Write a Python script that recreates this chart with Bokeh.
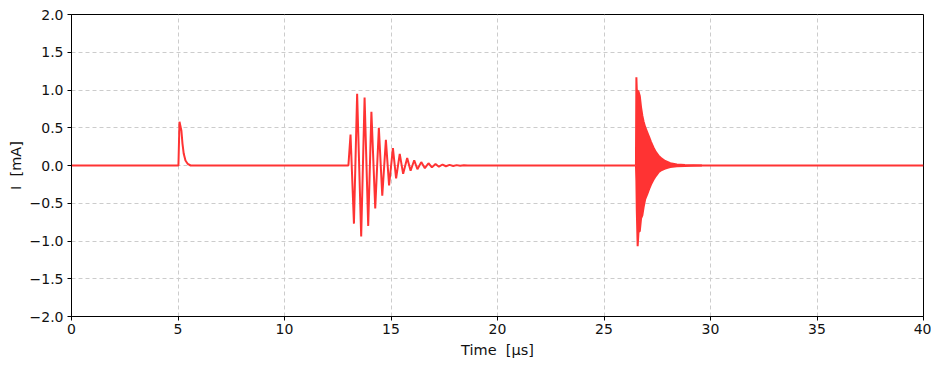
from bokeh.plotting import figure
from bokeh.models import Range1d, FixedTicker, CustomJSTickFormatter
from bokeh.embed import file_html
from bokeh.resources import INLINE

# ---- data ----
# baseline + first pulse + second (damped) burst, time in microseconds, current in mA
t_main = [0.0, 5.02, 5.07, 5.16, 5.21, 5.27, 5.35, 5.46, 5.59,
          13.00, 13.10, 13.26, 13.41, 13.60, 13.76, 13.93, 14.08, 14.26, 14.43, 14.59,
          14.76, 14.91, 15.09, 15.24, 15.41, 15.57, 15.76, 15.92, 16.09, 16.24, 16.42,
          16.59, 16.76, 16.92, 17.09, 17.25, 17.42, 17.58, 17.75, 17.92, 18.08, 18.25,
          18.42, 18.60, 26.48]
i_main = [0.0, 0.0, 0.58, 0.46, 0.29, 0.155, 0.066, 0.02, 0.0,
          0.0, 0.41, -0.77, 0.95, -0.94, 0.90, -0.80, 0.71, -0.57, 0.50, -0.40,
          0.34, -0.265, 0.23, -0.17, 0.155, -0.11, 0.10, -0.07, 0.07, -0.05, 0.045,
          -0.035, 0.03, -0.025, 0.02, -0.016, 0.013, -0.01, 0.008, -0.006, 0.005, -0.004,
          0.003, 0.0, 0.0]

# third burst: very fast oscillation, drawn by its upper / lower envelope
t_b3 = [26.50, 26.52, 26.54, 26.58, 26.62, 26.68, 26.74, 26.80, 26.86, 26.93, 27.03, 27.12,
        27.21, 27.32, 27.43, 27.56, 27.71, 27.87, 28.11, 28.42, 28.80, 29.20, 29.60]
hi_b3 = [0.0, 1.17, 1.0, 0.99, 0.98, 0.92, 0.77, 0.66, 0.58, 0.51, 0.44, 0.375,
         0.31, 0.24, 0.18, 0.13, 0.09, 0.06, 0.03, 0.013, 0.006, 0.003, 0.0]
lo_b3 = [0.0, -0.2, -0.6, -1.07, -0.88, -0.87, -0.70, -0.66, -0.55, -0.45, -0.38, -0.31,
         -0.25, -0.19, -0.14, -0.09, -0.06, -0.04, -0.02, -0.01, -0.005, -0.002, 0.0]
t_tail = [29.60, 40.0]
i_tail = [0.0, 0.0]

x_ticks = [0, 5, 10, 15, 20, 25, 30, 35, 40]
y_ticks = [-2.0, -1.5, -1.0, -0.5, 0.0, 0.5, 1.0, 1.5, 2.0]

RED = "#ff3333"
FONT = "DejaVu Sans"
LW = 2

p = figure(width=931, height=360, output_backend="svg", toolbar_location=None,
           x_range=Range1d(0, 40), y_range=Range1d(-2, 2),
           min_border_left=71, min_border_right=8, min_border_top=14, min_border_bottom=44)
p.background_fill_color = "white"
p.border_fill_color = "white"
p.outline_line_color = "black"
p.outline_line_width = 1

p.line(t_main, i_main, color=RED, line_width=LW)
p.varea(x=t_b3, y1=lo_b3, y2=hi_b3, fill_color=RED)
p.line(t_b3, hi_b3, color=RED, line_width=LW)
p.line(t_b3, lo_b3, color=RED, line_width=LW)
p.line(t_tail, i_tail, color=RED, line_width=LW)

p.xaxis.ticker = FixedTicker(ticks=x_ticks)
p.yaxis.ticker = FixedTicker(ticks=y_ticks)
p.yaxis.formatter = CustomJSTickFormatter(code="return tick.toFixed(1).replace('-', '\u2212');")
p.xaxis.formatter = CustomJSTickFormatter(code="return tick.toFixed(0);")

for ax in (p.xaxis[0], p.yaxis[0]):
    ax.axis_line_color = "black"
    ax.major_tick_line_color = "black"
    ax.major_tick_out = 4
    ax.major_tick_in = 0
    ax.minor_tick_line_color = None
    ax.major_label_text_font = FONT
    ax.major_label_text_font_size = "14px"
    ax.major_label_text_color = "#111111"
    ax.axis_label_text_font = FONT
    ax.axis_label_text_font_size = "14.5px"
    ax.axis_label_text_font_style = "normal"
    ax.axis_label_text_color = "#111111"

p.xaxis.axis_label = "Time\u00a0 [μs]"
p.yaxis.axis_label = "I\u00a0 [mA]"
p.xaxis.major_label_standoff = 3
p.yaxis.major_label_standoff = 4
p.xaxis.axis_label_standoff = 5
p.yaxis.axis_label_standoff = 3

p.grid.grid_line_color = "#cccccc"
p.grid.grid_line_dash = "4 3"
p.grid.grid_line_width = 1

open("out.html", "w").write(file_html(p, INLINE))
